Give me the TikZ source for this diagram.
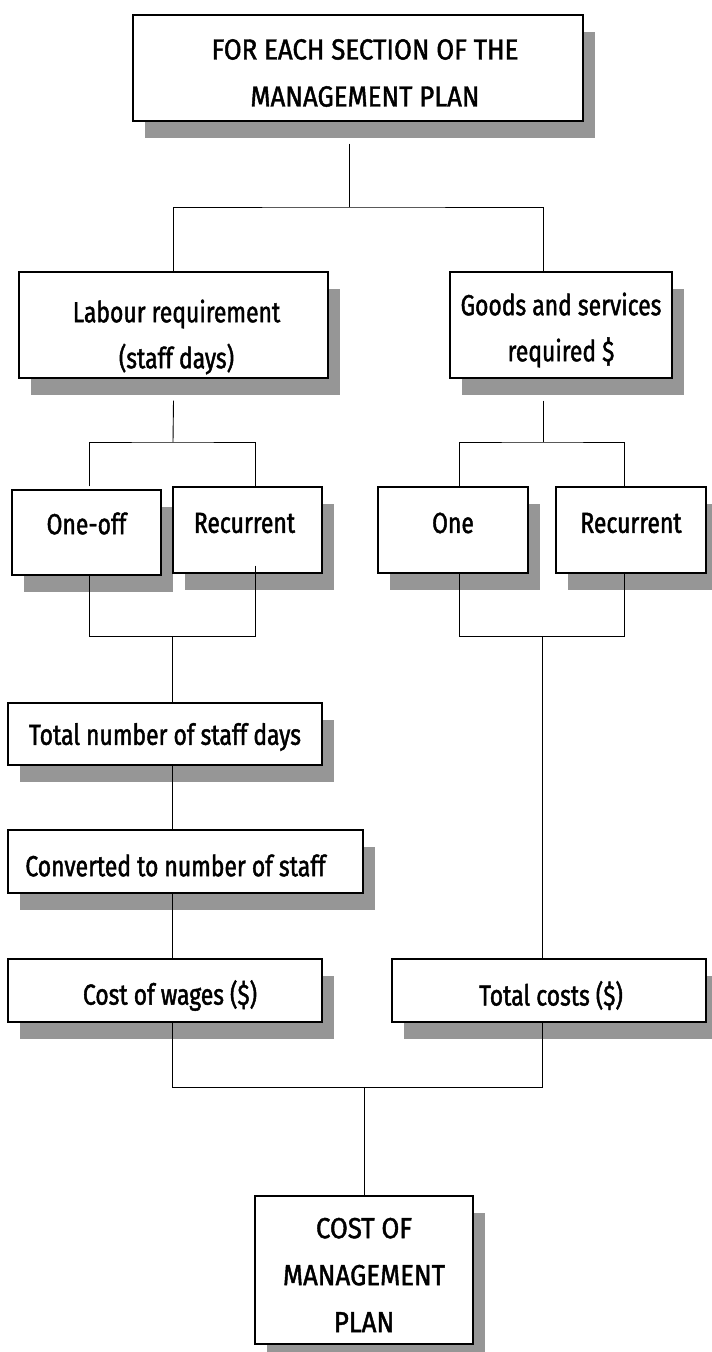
\documentclass[tikz,border=0pt]{standalone}
\usepackage{fontspec}
\setmainfont{Fira Sans}[FakeStretch=0.79, FakeBold=1.5]
\newfontfamily\capsfont{Fira Sans}[FakeStretch=0.89, FakeBold=1.5]
\usetikzlibrary{shadows}
\definecolor{shadowgray}{RGB}{150,150,150}
\tikzset{
  box/.style={draw=black, line width=1.2pt, fill=white, rectangle, inner sep=0pt,
    drop shadow={shadow xshift=12pt, shadow yshift=-17pt, fill=shadowgray, opacity=1}},
  boxtext/.style={inner sep=0pt, align=center, font=\fontsize{29}{46}\selectfont},
  capstext/.style={boxtext, font=\capsfont\fontsize{29}{47}\selectfont},
  link/.style={draw=black, line width=0.9pt}
}
\begin{document}
\begin{tikzpicture}[x=1pt, y=-1pt]
  \useasboundingbox (0,0) rectangle (712,1352);

  % boxes with their drop shadows
  \node[box, minimum width=450pt, minimum height=106pt] (top) at (358,68) {};
  \node[box, minimum width=309pt, minimum height=106pt] (labour) at (173.5,325) {};
  \node[box, minimum width=222pt, minimum height=106pt] (goods) at (561,325) {};
  \node[box, minimum width=149pt, minimum height=85pt] (oneoff) at (86.5,532.5) {};
  \node[box, minimum width=149pt, minimum height=86pt] (recL) at (247.5,530) {};
  \node[box, minimum width=150pt, minimum height=86pt] (one) at (453,530) {};
  \node[box, minimum width=150pt, minimum height=86pt] (recR) at (631,530) {};
  \node[box, minimum width=314pt, minimum height=62pt] (days) at (165,734) {};
  \node[box, minimum width=355pt, minimum height=63pt] (conv) at (185.5,861.5) {};
  \node[box, minimum width=314pt, minimum height=63pt] (wages) at (165,990.5) {};
  \node[box, minimum width=314pt, minimum height=63pt] (totc) at (549,990.5) {};
  \node[box, minimum width=218pt, minimum height=148pt] (plan) at (364,1270) {};

  % box texts
  \node[capstext] (top-t) at ([xshift=7pt, yshift=-5pt]top.center)
    {FOR EACH SECTION OF THE\\MANAGEMENT PLAN};
  \node[boxtext] (labour-t) at ([xshift=3pt, yshift=-12pt]labour.center)
    {Labour requirement\\(staff days)};
  \node[boxtext] (goods-t) at ([yshift=-5pt]goods.center)
    {Goods and services\\required \$};
  \node[boxtext] (oneoff-t) at ([yshift=9pt]oneoff.center) {One-off};
  \node[boxtext] (recL-t) at ([xshift=-3pt, yshift=7pt]recL.center) {Recurrent};
  \node[boxtext] (one-t) at ([yshift=7pt]one.center) {One};
  \node[boxtext] (recR-t) at ([yshift=7pt]recR.center) {Recurrent};
  \node[boxtext] (days-t) at ([yshift=-3pt]days.center) {Total number of staff days};
  \node[boxtext] (conv-t) at ([xshift=-10pt, yshift=-4pt]conv.center)
    {Converted to number of staff};
  \node[boxtext] (wages-t) at ([xshift=5pt, yshift=-5pt]wages.center) {Cost of wages (\$)};
  \node[boxtext] (totc-t) at ([xshift=2pt, yshift=-5pt]totc.center) {Total costs (\$)};
  \node[capstext] (plan-t) at ([yshift=-5pt]plan.center) {COST OF\\MANAGEMENT\\PLAN};

  % junction points of the bracket connectors
  \coordinate (j1) at (349,207);
  \coordinate (j2) at (173,442);
  \coordinate (j3) at (543,442);
  \coordinate (j4) at (172,636);
  \coordinate (j5) at (542,636);
  \coordinate (j6) at (364,1087);

  % top split
  \draw[link] ([xshift=-9pt, yshift=-22pt]top.south) -- (j1);
  \draw[link] (labour.north) |- (j1) -| ([xshift=-18pt]goods.north);

  % labour branch
  \draw[link] ([yshift=-22pt]labour.south) -- (j2);
  \draw[link] ([xshift=2.5pt, yshift=3pt]oneoff.north) |- (j2) -| ([xshift=7.5pt]recL.north);
  \draw[link] ([xshift=2.5pt]oneoff.south) |- (j4);
  \draw[link] ([xshift=7.5pt, yshift=8pt]recL.south) |- (j4);
  \draw[link] (j4) -- ([xshift=7pt]days.north);

  % goods branch
  \draw[link] ([xshift=-18pt, yshift=-22pt]goods.south) -- (j3);
  \draw[link] ([xshift=6pt]one.north) |- (j3) -| ([xshift=-7pt]recR.north);
  \draw[link] ([xshift=6pt]one.south) |- (j5);
  \draw[link] ([xshift=-7pt]recR.south) |- (j5);
  \draw[link] (j5) -- ([xshift=-7pt]totc.north);

  % staff chain
  \draw[link] ([xshift=7pt]days.south) -- ([xshift=-13.5pt]conv.north);
  \draw[link] ([xshift=-13.5pt]conv.south) -- ([xshift=7pt]wages.north);

  % final merge
  \draw[link] ([xshift=7pt]wages.south) |- (j6);
  \draw[link] ([xshift=-7pt]totc.south) |- (j6);
  \draw[link] (j6) -- (plan.north);
\end{tikzpicture}
\end{document}
